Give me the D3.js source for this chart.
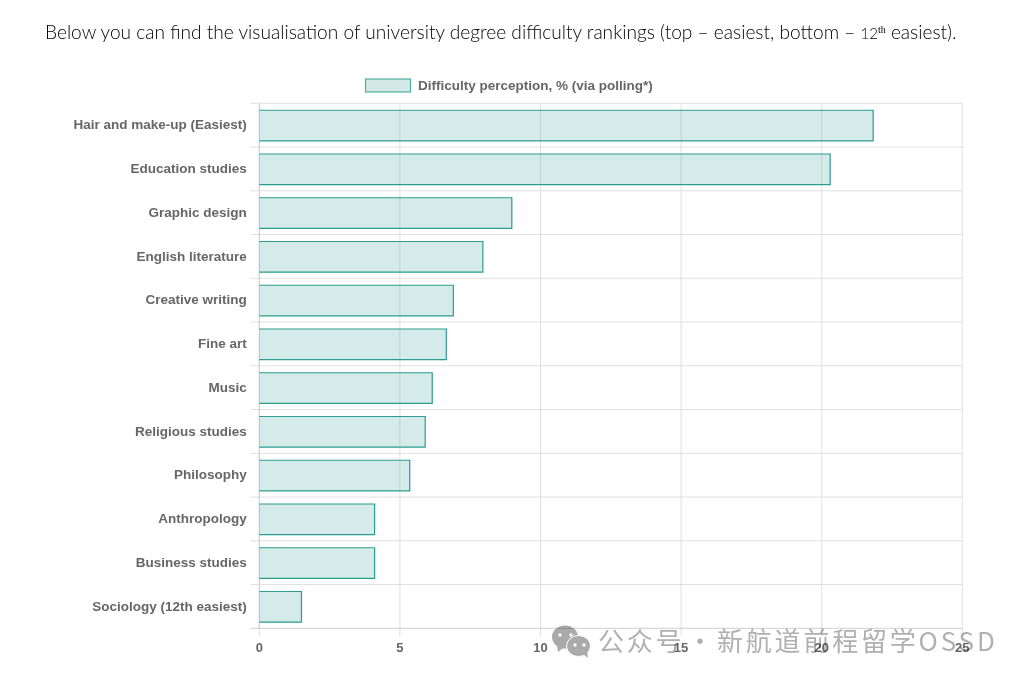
<!DOCTYPE html>
<html>
<head>
<meta charset="utf-8">
<script src="https://cdn.jsdelivr.net/npm/d3@7"></script>
<style>
  html, body { margin: 0; padding: 0; background: #fff; }
  svg { display: block; }
  .tick text { font-family: "Liberation Sans", Arial, sans-serif; font-weight: bold; fill: #666; }
  .x-axis .tick text { font-size: 13px; }
  .y-axis .tick text, .legend-label { font-family: "Liberation Sans", Arial, sans-serif; font-weight: bold; font-size: 13.5px; fill: #666; }
</style>
</head>
<body>
<svg id="chart" width="1029" height="683"></svg>
<script>
var categories = ["Hair and make-up (Easiest)", "Education studies", "Graphic design", "English literature",
  "Creative writing", "Fine art", "Music", "Religious studies", "Philosophy", "Anthropology",
  "Business studies", "Sociology (12th easiest)"];
var difficulty = [21.83, 20.3, 8.98, 7.95, 6.9, 6.65, 6.15, 5.9, 5.35, 4.1, 4.1, 1.5];
var xTicks = [0, 5, 10, 15, 20, 25];

var svg = d3.select("#chart");

var left = 259.3, right = 962.3, top_ = 103.3, bottom = 628.3;
var x = d3.scaleLinear().domain([0, 25]).range([left, right]);
var y = d3.scaleBand().domain(categories).range([top_, bottom]).paddingInner(0.3).paddingOuter(0.15);
var step = y.step();

// heading
var heading = svg.append("text")
  .attr("x", 45).attr("y", 38.5)
  .attr("font-family", "Lato, 'Open Sans', sans-serif")
  .attr("font-weight", 300)
  .attr("font-size", 19.13)
  .attr("fill", "#000");
heading.append("tspan").text("Below you can find the visualisation of university degree difficulty rankings (top \u2013 easiest, bottom \u2013 ");
heading.append("tspan").text("12").attr("font-size", 15);
heading.append("tspan").text("th").attr("font-size", 10).attr("dy", -6).attr("font-family", "Liberation Serif, serif");
heading.append("tspan").text(" easiest).").attr("dy", 6);

// legend
svg.append("rect").attr("x", 365.5).attr("y", 79).attr("width", 45).attr("height", 13)
  .attr("fill", "#d4e9e5").attr("stroke", "#2a9d8f").attr("stroke-opacity", 0.8).attr("stroke-width", 1.2);
svg.append("text").attr("class", "legend-label").attr("x", 418).attr("y", 90)
  .text("Difficulty perception, % (via polling*)");

// grid + axes
var xAxis = d3.axisBottom(x).tickValues(xTicks).tickSize(0).tickPadding(14).offset(0).tickFormat(d3.format("d"));
var gx = svg.append("g").attr("class", "x-axis").attr("transform", "translate(0," + bottom + ")").call(xAxis);
gx.select(".domain").remove();
gx.selectAll(".tick").append("line")
  .attr("y1", top_ - bottom).attr("y2", 8)
  .attr("stroke", "#e0e0e0");

var yAxis = d3.axisLeft(y).tickSize(0).tickPadding(12.5).offset(0);
var gy = svg.append("g").attr("class", "y-axis").attr("transform", "translate(" + left + ",-0.1)").call(yAxis);
gy.select(".domain").remove();

var gridRows = d3.range(categories.length + 1);
svg.append("g").selectAll("line").data(gridRows).join("line")
  .attr("x1", left - 9).attr("x2", right)
  .attr("y1", function (d) { return top_ + d * step; })
  .attr("y2", function (d) { return top_ + d * step; })
  .attr("stroke", function (d) { return d === categories.length ? "#cfcfcf" : "#e0e0e0"; });
svg.append("line").attr("x1", left).attr("x2", left).attr("y1", top_).attr("y2", bottom)
  .attr("stroke", "#cfcfcf");

// bars: fill, then a border on three sides (no left edge)
var bars = svg.append("g").attr("transform", "translate(0,0.4)");
bars.selectAll("rect").data(categories).join("rect")
  .attr("x", left)
  .attr("y", function (d) { return y(d); })
  .attr("width", function (d, i) { return x(difficulty[i]) - left; })
  .attr("height", y.bandwidth())
  .attr("fill", "#2a9d8f").attr("fill-opacity", 0.2);
bars.selectAll("path").data(categories).join("path")
  .attr("d", function (d, i) {
    var p = d3.path();
    p.moveTo(left, y(d));
    p.lineTo(x(difficulty[i]), y(d));
    p.lineTo(x(difficulty[i]), y(d) + y.bandwidth());
    p.lineTo(left, y(d) + y.bandwidth());
    return p.toString();
  })
  .attr("fill", "none")
  .attr("stroke", "#2a9d8f").attr("stroke-width", 1.2);

// watermark
var mark = svg.append("g").style("mix-blend-mode", "multiply");
mark.append("ellipse").attr("cx", 565).attr("cy", 637).attr("rx", 13).attr("ry", 11.5).attr("fill", "#aaa");
mark.append("path").attr("d", "M557 645L558 652L564 647Z").attr("fill", "#aaa");
mark.append("ellipse").attr("cx", 578.5).attr("cy", 646).attr("rx", 12).attr("ry", 10.5).attr("fill", "#aaa")
  .attr("stroke", "#fff").attr("stroke-width", 1);
mark.append("path").attr("d", "M583 654L588 658L587 651Z").attr("fill", "#aaa");
mark.selectAll("circle").data([[560, 635], [571, 635], [575, 645], [584, 645]]).join("circle")
  .attr("cx", function (d) { return d[0]; }).attr("cy", function (d) { return d[1]; })
  .attr("r", 1.7).attr("fill", "#fff");
var markText = mark.append("text").attr("y", 651)
  .attr("font-family", "'Noto Sans CJK SC', sans-serif").attr("font-size", 26)
  .attr("letter-spacing", 2.8).attr("fill", "#b0b0b0");
markText.append("tspan").attr("x", 598).text("公众号");
markText.append("tspan").attr("x", 687).text("·");
markText.append("tspan").attr("x", 717).text("新航道前程留学OSSD");
</script>
</body>
</html>
